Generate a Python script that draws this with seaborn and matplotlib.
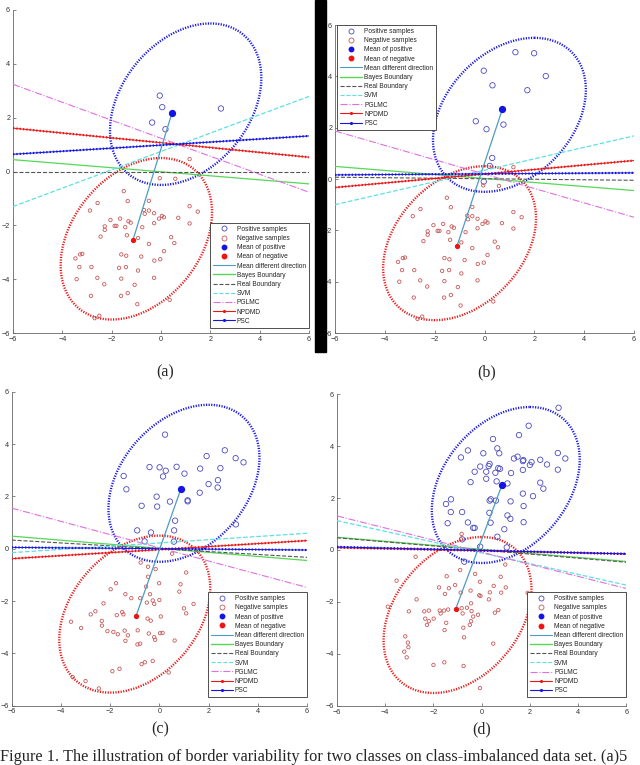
import numpy as np
import matplotlib
matplotlib.use("Agg")
import matplotlib.pyplot as plt
from matplotlib.lines import Line2D
from matplotlib.patches import Rectangle
import seaborn as sns

# ---------------- data ----------------
# negative samples shared by panels (a) and (b)
neg_ab_x = [1.16, -0.05, 0.58, -1.51, -2.57, -1.35, -0.49, -0.69, -0.49, -0.28, -0.66, -2.88, 0.04, 0.12,
            -0.08, 0.70, 1.16, 1.49, 1.16, -2.05, -1.66, -1.32, -1.23, -2.28, -2.28, -1.88, -1.81, -1.45,
            -0.76, -0.28, -2.45, -1.38, -0.93, 0.41, -0.49, 0.54, 0.12, -1.61, -1.41, -0.80, -0.03, -0.27,
            -3.19, -3.28, -3.47, -3.31, -2.82, -1.70, -1.42, -0.93, -3.42, -2.58, -1.61, -0.28, -2.30, -1.07,
            -2.84, -1.62, -1.35, -0.96, 0.35, -2.50, -2.69]
neg_ab_y = [0.46, -0.25, -0.27, -0.73, -1.17, -1.10, -1.09, -1.43, -1.45, -1.55, -1.57, -1.45, -1.65, -1.70,
            -1.75, -1.72, -1.29, -1.49, -1.93, -1.80, -1.75, -1.85, -1.90, -2.04, -2.17, -2.02, -2.02, -2.07,
            -2.07, -1.92, -2.42, -2.37, -2.47, -2.44, -2.69, -2.66, -2.96, -3.08, -3.13, -3.16, -3.26, -3.31,
            -3.06, -3.08, -3.23, -3.55, -3.55, -3.58, -3.55, -3.68, -4.00, -3.95, -3.98, -3.95, -4.19, -4.21,
            -4.62, -4.62, -4.52, -4.93, -4.77, -5.36, -5.45]

pos_a_x = [-0.05, 0.05, -0.36, 0.18, 2.43]
pos_a_y = [2.82, 2.39, 1.82, 1.57, 2.34]

pos_b_x = [1.24, 1.99, -0.03, 2.46, 0.32, 1.72, -0.35, 0.08, 0.76, 0.31, 0.21, -0.03]
pos_b_y = [4.94, 4.90, 4.22, 4.01, 3.65, 3.46, 2.25, 1.94, 2.12, 0.82, 0.51, -0.10]

pos_c_x = [0.23, 1.92, 2.66, 3.10, 3.42, -0.40, 0.01, 0.26, 0.15, 0.70, 1.02, 1.66, 2.48, -1.45, 2.38, 2.00,
           2.37, -1.34, 1.64, -0.11, 1.15, 1.15, -0.72, -0.09, 0.43, 0.64, 3.11, -0.90, -0.34, 0.60, -0.60, 0.59]
pos_c_y = [4.36, 3.54, 3.76, 3.46, 3.30, 3.12, 3.11, 2.98, 2.76, 3.13, 2.87, 3.06, 3.08, 2.78, 2.62, 2.47,
           2.34, 2.27, 2.14, 1.99, 1.85, 1.81, 1.64, 1.61, 1.80, 1.07, 0.93, 0.70, 0.62, 0.70, 0.28, 0.27]

neg_c_x = [0.52, -0.76, -0.46, -0.15, 1.09, -0.46, -0.01, 0.86, -1.76, -1.98, -0.54, 0.81, -1.38, -1.14, -0.78,
           -0.38, -2.27, -0.51, -0.27, -0.21, 0.00, 1.39, 1.00, 1.09, -1.51, -1.46, -1.73, -2.60, -2.79, -0.48,
           -0.35, 0.06, -2.34, -2.33, -3.59, -3.18, -2.11, -1.87, -1.69, -1.41, -1.28, -0.88, -0.43, -0.21,
           -0.17, 0.03, 0.13, -1.38, -0.89, -0.78, 0.62, -0.59, -0.72, -0.27, -1.62, -1.91, 0.38, -3.52,
           -3.00, -2.46]
neg_c_y = [-0.19, -0.53, -0.69, -0.78, -0.91, -1.07, -1.32, -1.36, -1.32, -1.55, -1.45, -1.64, -1.74, -1.89,
           -1.89, -1.74, -2.09, -2.06, -1.98, -2.11, -1.96, -2.11, -2.28, -2.47, -2.42, -2.51, -2.54, -2.39,
           -2.51, -2.67, -2.75, -2.59, -2.76, -2.94, -2.79, -3.03, -3.15, -3.18, -3.27, -3.13, -3.31, -3.12,
           -3.24, -3.38, -3.48, -3.23, -3.22, -3.52, -3.66, -3.63, -3.51, -4.34, -4.41, -4.29, -4.59, -4.68,
           -4.73, -4.91, -5.06, -5.34]

pos_d_x = [3.19, 1.95, 1.55, 0.47, -0.57, 0.65, 0.07, 0.73, -0.86, 1.34, 1.49, 1.73, 1.71, 2.07, 2.00, 2.43,
           3.16, 3.47, 2.71, 3.16, -0.06, 0.33, 0.19, -0.29, 0.29, 0.69, 0.76, 0.57, 1.22, 1.71, 0.19, -0.46,
           0.62, 1.07, 2.43, 2.56, 2.13, 1.71, 1.20, 0.38, 0.33, 0.59, -1.27, -1.48, 1.74, -1.28, -0.81, 0.32,
           1.07, 1.19, 1.74, 0.37, -1.41, -0.57, -0.35, -0.29, 0.94, 0.65, -0.81, 1.04, -0.06, -0.72]
pos_d_y = [5.47, 4.78, 4.42, 4.27, 3.83, 3.91, 3.72, 3.72, 3.56, 3.52, 3.59, 3.46, 3.42, 3.38, 3.27, 3.47,
           3.73, 3.52, 3.29, 3.09, 3.21, 3.31, 3.01, 3.01, 3.23, 3.15, 3.12, 2.97, 2.96, 3.08, 2.74, 2.61,
           2.64, 2.56, 2.59, 2.36, 2.07, 2.17, 1.87, 1.95, 1.90, 1.90, 1.95, 1.77, 1.69, 1.46, 1.46, 1.43,
           1.33, 1.20, 1.07, 1.05, 1.03, 1.06, 0.85, 0.85, 0.80, 0.51, 0.41, 0.10, 0.13, -0.45]

neg_d_x = [-0.83, -0.86, -2.74, -3.53, -3.89, -0.89, -1.45, -0.27, -0.07, 0.98, 0.79, 1.00, 0.50, -1.77, -1.10,
           -1.36, -1.52, -0.87, -0.46, -0.10, -0.05, 0.34, 0.30, 0.81, -2.70, -0.44, -3.02, -2.38, -2.19, -1.74,
           -1.70, -1.56, -1.39, -0.83, -0.79, -0.61, -0.42, -0.15, -0.35, -0.44, -0.49, -0.76, 0.69, 0.55,
           -2.34, -2.19, -1.99, -2.27, -1.47, -1.54, -0.73, -3.17, -3.06, -3.04, -3.21, -3.11, 0.48, -2.00,
           -1.55, -0.75, -0.07, 1.91]
neg_d_y = [0.62, 0.41, -0.26, -1.18, -2.18, -0.77, -1.01, -0.92, -1.22, -0.56, -1.03, -1.44, -1.38, -1.44,
           -1.35, -1.47, -1.69, -1.64, -1.56, -1.74, -1.77, -1.63, -1.90, -1.64, -1.90, -2.05, -2.36, -2.36,
           -2.33, -2.33, -2.44, -2.33, -2.29, -2.24, -2.44, -2.22, -2.35, -2.49, -2.56, -2.74, -2.88, -2.99,
           -2.31, -2.41, -2.64, -2.74, -2.64, -2.88, -2.80, -3.08, -3.36, -3.32, -3.56, -3.74, -3.91, -4.13,
           -3.60, -4.42, -4.32, -4.46, -5.31, -1.65]

# class means (a, b, c, d)
mean_pos = [(0.45, 2.19), (0.72, 2.73), (0.87, 2.27), (0.84, 2.49)]
mean_neg = [(-1.14, -2.56), (-1.10, -2.60), (-0.95, -2.58), (-1.08, -2.28)]

# boundary lines: y at x=-6 and y at x=6 for panels a, b, c, d
line_x = [-6, 6]
bayes = [(0.44, -0.46), (0.49, -0.45), (0.48, -0.45), (0.49, -0.44)]
real = [(0.00, 0.00), (0.07, -0.05), (0.33, -0.33), (0.47, -0.47)]
svm = [(-1.30, 2.79), (-1.00, 1.68), (-0.15, 0.59), (1.13, -1.35)]
pglmc = [(3.24, -0.77), (1.87, -1.49), (1.55, -1.48), (1.31, -1.48)]
npdmd = [(1.61, 0.53), (-0.33, 0.72), (-0.38, 0.31), (0.09, -0.15)]
psc = [(0.64, 1.32), (0.16, 0.24), (0.05, -0.05), (0.12, -0.15)]

# confidence ellipses: centre, x-amplitudes (cos, sin), y-amplitude
ell_pos_center = (1.0, 2.5)
ell_neg_center = (-1.0, -2.5)
ell_ax = (1.0, 2.9)
ell_ay = 3.0

# ---------------- styling ----------------
POS_C = "#4a4ac0"
NEG_C = "#c85a5a"
BLUE = "#1414e6"
RED = "#ee1414"
MEAN_C = "#4f9cc2"
BAYES_C = "#55d855"
REAL_C = "#555555"
SVM_C = "#5ee0e0"
PGL_C = "#e070e0"

sns.set_theme(style="white")
plt.rcParams["font.family"] = ["Liberation Sans", "DejaVu Sans"]


def legend_handles():
    return [
        Line2D([], [], ls="none", marker="o", mfc="none", mec=POS_C, ms=3.6, mew=0.6, label="Positive samples"),
        Line2D([], [], ls="none", marker="o", mfc="none", mec=NEG_C, ms=3.6, mew=0.6, label="Negative samples"),
        Line2D([], [], ls="none", marker="o", color=BLUE, ms=3.2, label="Mean of positive"),
        Line2D([], [], ls="none", marker="o", color=RED, ms=3.2, label="Mean of negative"),
        Line2D([], [], color=MEAN_C, lw=0.8, label="Mean different direction"),
        Line2D([], [], color=BAYES_C, lw=1.0, label="Bayes Boundary"),
        Line2D([], [], color=REAL_C, lw=0.8, ls="--", label="Real Boundary"),
        Line2D([], [], color=SVM_C, lw=0.8, ls="--", label="SVM"),
        Line2D([], [], color=PGL_C, lw=0.8, ls="-.", label="PGLMC"),
        Line2D([], [], color=RED, lw=0.8, marker=".", ms=2.5, label="NPDMD"),
        Line2D([], [], color=BLUE, lw=0.8, marker=".", ms=2.5, label="PSC"),
    ]


def draw_panel(ax, k, pos_x, pos_y, neg_x, neg_y, leg_loc, leg_anchor):
    t = np.linspace(0, 2 * np.pi, 361)
    for (cx, cy), col in [(ell_pos_center, BLUE), (ell_neg_center, RED)]:
        ex = cx + ell_ax[0] * np.cos(t) + ell_ax[1] * np.sin(t)
        ey = cy + ell_ay * np.cos(t)
        ax.plot(ex, ey, color=col, lw=1.7, ls=(0, (0.5, 0.6)), zorder=2)

    sns.scatterplot(x=pos_x, y=pos_y, ax=ax, marker="o", s=15, facecolor="none",
                    edgecolor=POS_C, linewidth=0.6, legend=False, zorder=3)
    sns.scatterplot(x=neg_x, y=neg_y, ax=ax, marker="o", s=6, facecolor="none",
                    edgecolor=NEG_C, linewidth=0.6, legend=False, zorder=3)

    for vals, col, ls, lw in [(bayes, BAYES_C, "-", 0.9), (real, REAL_C, "--", 0.8),
                              (svm, SVM_C, "--", 0.9), (pglmc, PGL_C, "-.", 0.8)]:
        ax.plot(line_x, vals[k], color=col, ls=ls, lw=lw, zorder=4)
    for vals, col in [(npdmd, RED), (psc, BLUE)]:
        ax.plot(line_x, vals[k], color=col, lw=0.7, zorder=4)
        ax.plot(line_x, vals[k], color=col, lw=1.6, ls=(0, (0.6, 0.9)), zorder=4)

    mp, mn = mean_pos[k], mean_neg[k]
    ax.plot([mn[0], mp[0]], [mn[1], mp[1]], color=MEAN_C, lw=0.9, zorder=5)
    ax.plot(*mp, marker="o", color=BLUE, ms=4.2, ls="none", zorder=6)
    ax.plot(*mn, marker="o", color=RED, ms=2.8, ls="none", zorder=6)

    ax.set_xlim(-6, 6)
    ax.set_ylim(-6, 6)
    ax.set_xticks(range(-6, 7, 2))
    ax.set_yticks(range(-6, 7, 2))
    ax.tick_params(labelsize=5.2, labelcolor="#333333", direction="in", length=2, width=0.5,
                   color="#555555", pad=2, left=True, bottom=True)
    sns.despine(ax=ax)
    for s in ["left", "bottom"]:
        ax.spines[s].set_color("#666666")
        ax.spines[s].set_linewidth(0.6)

    leg = ax.legend(handles=legend_handles(), loc=leg_loc, bbox_to_anchor=leg_anchor,
                    borderaxespad=0, fontsize=4.8, handlelength=3.3, handletextpad=0.3,
                    labelspacing=0.33, borderpad=0.45, numpoints=1, fancybox=False,
                    framealpha=1, edgecolor="#333333")
    leg.get_frame().set_linewidth(0.6)


fig = plt.figure(figsize=(6.4, 7.65), dpi=100)
W, H = 640, 765


def add_axes(x0, x1, y0, y1):
    return fig.add_axes([x0 / W, 1 - y1 / H, (x1 - x0) / W, (y1 - y0) / H])


ax_a = add_axes(13, 309, 10, 333)
ax_b = add_axes(335, 634, 25, 333)
ax_c = add_axes(11.7, 307, 391.7, 705.7)
ax_d = add_axes(337, 626.3, 394, 706)

draw_panel(ax_a, 0, pos_a_x, pos_a_y, neg_ab_x, neg_ab_y, "lower right", (1.0, 0.016))
draw_panel(ax_b, 1, pos_b_x, pos_b_y, neg_ab_x, neg_ab_y, "upper left", (0.007, 1.0))
draw_panel(ax_c, 2, pos_c_x, pos_c_y, neg_c_x, neg_c_y, "lower right", (1.0, 0.027))
draw_panel(ax_d, 3, pos_d_x, pos_d_y, neg_d_x, neg_d_y, "lower right", (1.0, 0.028))

# black separator bar between (a) and (b)
fig.add_artist(Rectangle((315 / W, 1 - 352 / H), 11 / W, 352 / H, transform=fig.transFigure,
                         color="black", zorder=10))

serif = ["Liberation Serif", "DejaVu Serif"]
for label, x, y in [("(a)", 165, 372), ("(b)", 487, 372), ("(c)", 160, 729), ("(d)", 482, 729)]:
    fig.text(x / W, 1 - y / H, label, ha="center", va="center", fontsize=11.5, family=serif)
fig.text(0.0, 1 - 757 / H,
         "Figure 1. The illustration of border variability for two classes on class-imbalanced data set. (a)5",
         ha="left", va="center", fontsize=11.8, family=serif)

fig.savefig("out.png", dpi=100)
